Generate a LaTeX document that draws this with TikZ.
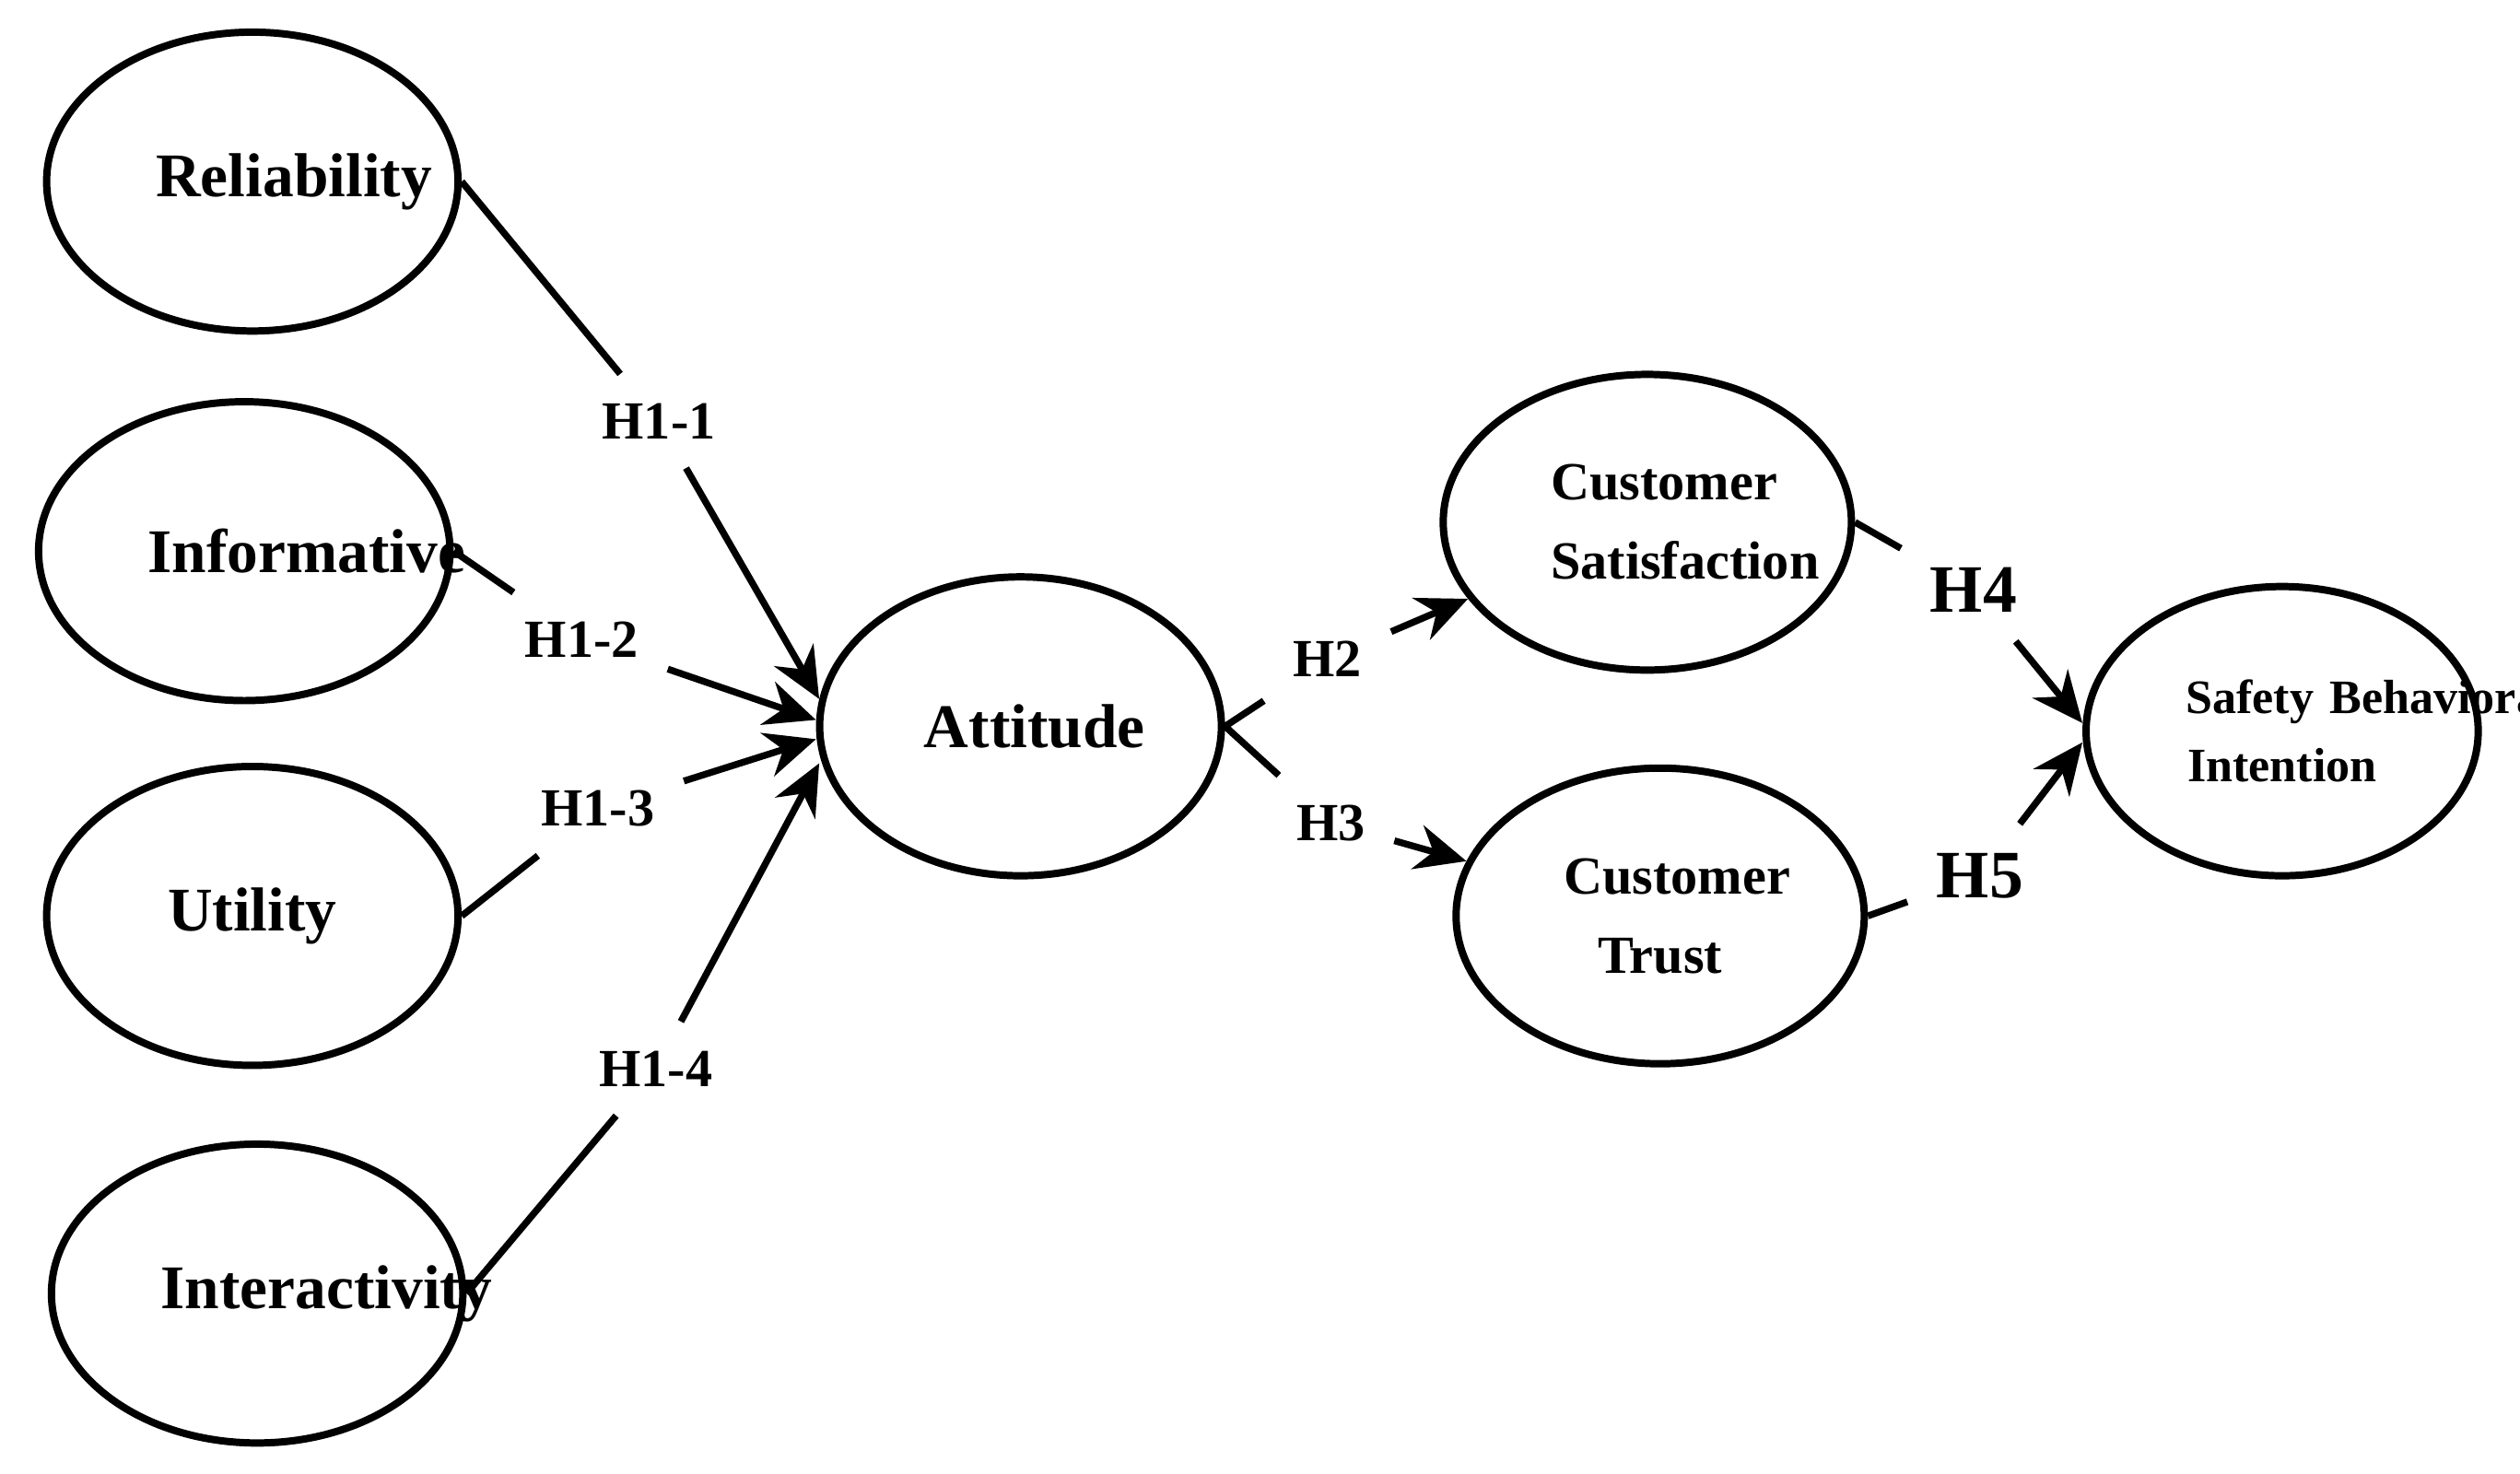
\documentclass[tikz,border=0pt]{standalone}
\usepackage{fontspec}
\setmainfont{Liberation Serif}
\usetikzlibrary{shapes.geometric,calc,arrows.meta}
\begin{document}
\begin{tikzpicture}[x=0.1mm,y=-0.1mm,
  ell/.style={draw,line width=1.3pt,ellipse,inner sep=0pt,align=center,text width=12mm},
  lab/.style={font=\bfseries\fontsize{9.5}{10}\selectfont,inner sep=5pt},
  big/.style={font=\bfseries\fontsize{12}{13}\selectfont,inner sep=5pt},
  ln/.style={line width=1.2pt},
  ar/.style={line width=1.2pt,-{Stealth[length=9pt,width=8pt]}}]
\useasboundingbox (0,0) rectangle (1568,917);
\node[ell,minimum height=18.6mm,minimum width=25.6mm,font=\bfseries\fontsize{11}{12}\selectfont] (rel) at (157,113) {\mbox{Reliability}};
\node[ell,minimum height=18.6mm,minimum width=25.6mm,font=\bfseries\fontsize{11}{12}\selectfont] (inf) at (152,343) {\mbox{Informative}};
\node[ell,minimum height=18.6mm,minimum width=25.6mm,font=\bfseries\fontsize{11}{12}\selectfont] (uti) at (157,570) {\mbox{Utility}};
\node[ell,minimum height=18.6mm,minimum width=25.6mm,font=\bfseries\fontsize{11}{12}\selectfont] (int) at (160,805) {\mbox{Interactivity}};
\node[ell,minimum height=18.6mm,minimum width=25mm,font=\bfseries\fontsize{11}{12}\selectfont] (att) at (635,452) {\mbox{Attitude}};
\node[ell,minimum height=18.4mm,minimum width=25.4mm,font=\bfseries\fontsize{9.5}{14}\selectfont] (cs) at (1025,325) {\mbox{Customer}\\\mbox{Satisfaction}};
\node[ell,minimum height=18.4mm,minimum width=25.4mm,font=\bfseries\fontsize{9.5}{14}\selectfont] (ct) at (1033,570) {\mbox{Customer}\\\mbox{Trust}};
\node[ell,minimum height=18mm,minimum width=24.4mm,font=\bfseries\fontsize{8.5}{12}\selectfont] (sbi) at (1420,455) {\mbox{Safety Behavioral}\\\mbox{Intention}};
\node[lab] (h11) at (410,262) {H1-1};
\node[lab] (h12) at (362,398) {H1-2};
\node[lab] (h13) at (372,503) {H1-3};
\node[lab] (h14) at (408,665) {H1-4};
\node[lab] (h2) at (826,410) {H2};
\node[lab] (h3) at (828,512) {H3};
\node[big] (h4) at (1228,367) {H4};
\node[big] (h5) at (1232,545) {H5};
\draw[ln] (rel.east) -- (h11);
\draw[ar] (h11) -- ($(att.west)+(2,-17)$);
\draw[ln] (inf.east) -- (h12);
\draw[ar] (h12) -- ($(att.west)+(0,-4)$);
\draw[ln] (uti.east) -- (h13);
\draw[ar] (h13) -- ($(att.west)+(0,8)$);
\draw[ln] (int.east) -- (h14);
\draw[ar] (h14) -- ($(att.west)+(2,23)$);
\draw[ln] (h2) -- (att.east) -- (h3);
\draw[ar] (h2) -- (cs);
\draw[ar] (h3) -- (ct);
\draw[ln] (cs.east) -- (h4);
\draw[ar] (h4) -- ($(sbi.west)+(0,-5)$);
\draw[ln] (ct.east) -- (h5);
\draw[ar] (h5) -- ($(sbi.west)+(0,7)$);
\end{tikzpicture}
\end{document}
